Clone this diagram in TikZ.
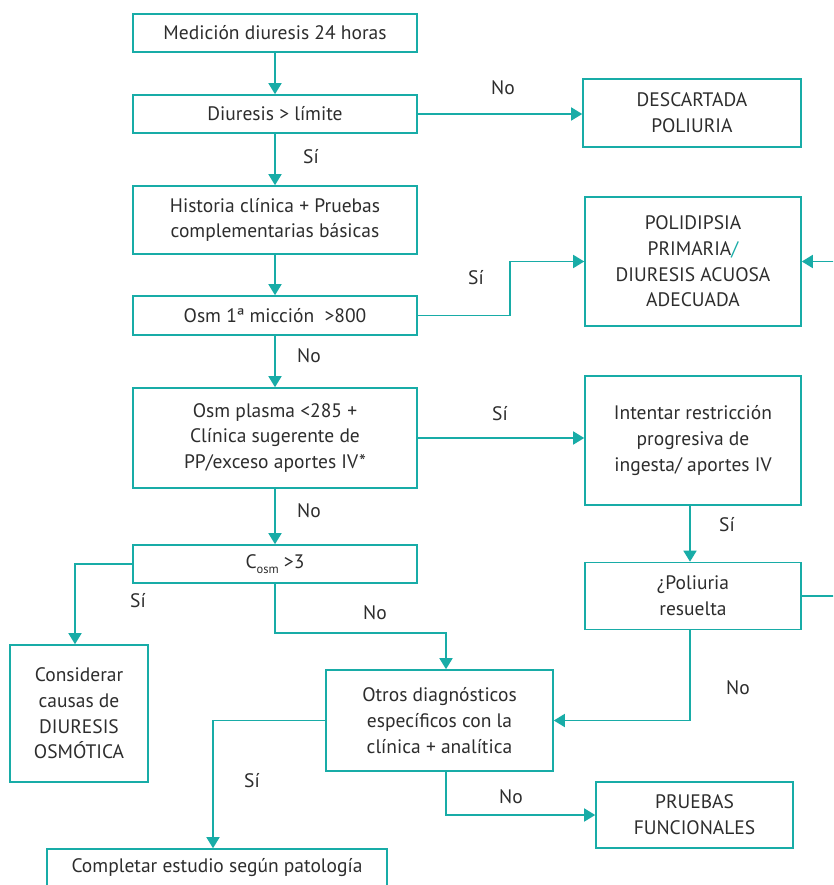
\documentclass[tikz,border=0pt]{standalone}
\usepackage{fontspec}
\setmainfont{PT Sans}
\usetikzlibrary{arrows.meta}
\definecolor{teal}{RGB}{24,172,167}
\definecolor{ink}{RGB}{45,45,45}
\tikzset{
  box/.style={draw=teal, line width=1.6pt, fill=white, align=center, text=ink,
    inner sep=2pt, font=\fontsize{19.5}{25.7}\selectfont},
  conn/.style={draw=teal, line width=1.6pt, -{Triangle[length=11pt,width=13pt]}},
  lbl/.style={text=ink, font=\fontsize{19.5}{22}\selectfont, inner sep=0pt}
}
\begin{document}
\begin{tikzpicture}[x=1pt,y=-1pt]
\useasboundingbox (0,0) rectangle (833,885);
\clip (0,0) rectangle (833,885);
\fill[white] (0,0) rectangle (833,885);

% left column
\node[box, minimum width=284pt, minimum height=38pt] (med) at (275,33) {Medición diuresis 24 horas};
\node[box, minimum width=284pt, minimum height=38pt] (diu) at (275,114) {Diuresis > límite};
\node[box, minimum width=284pt, minimum height=68pt] (his) at (275,220) {Historia clínica + Pruebas\\complementarias básicas};
\node[box, minimum width=284pt, minimum height=39pt] (osm) at (275,315.5) {Osm 1ª micción \ >800};
\node[box, minimum width=284pt, minimum height=100pt] (pla) at (275,438) {Osm plasma <285 +\\Clínica sugerente de\\PP/exceso aportes IV*};
\node[box, minimum width=284pt, minimum height=38pt] (cos) at (275,564) {C\raisebox{-0.45ex}{\fontsize{12.5}{12.5}\selectfont osm} >3};
\node[box, minimum width=138pt, minimum height=137pt] (con) at (79,713.5) {Considerar\\causas de\\DIURESIS\\OSMÓTICA};
\node[box, minimum width=227pt, minimum height=101pt] (otr) at (439.5,720.5) {Otros diagnósticos\\específicos con la\\clínica + analítica};
\node[box, minimum width=340pt, minimum height=38pt] (com) at (217,868) {Completar estudio según patología};

% right column
\node[box, minimum width=218pt, minimum height=68pt] (des) at (692,113) {DESCARTADA\\POLIURIA};
\node[box, minimum width=216pt, minimum height=129pt] (pol) at (693,261.5) {POLIDIPSIA\\PRIMARIA{\color{teal}/}\\DIURESIS ACUOSA\\ADECUADA};
\node[box, minimum width=216pt, minimum height=129pt] (int) at (693,440.5) {Intentar restricción\\progresiva de\\ingesta/ aportes IV};
\node[box, minimum width=216pt, minimum height=67pt] (res) at (693,596) {¿Poliuria\\resuelta};
\node[box, minimum width=197pt, minimum height=66pt] (pru) at (694.5,815) {PRUEBAS\\FUNCIONALES};

% connectors
\draw[conn] (med) -- (diu);
\draw[conn] (diu.east) -- (des.west |- diu.east);
\draw[conn] (diu) -- (his);
\draw[conn] (his) -- (osm);
\draw[conn] (osm.east) -- (510,315.5) |- (pol.west);
\draw[conn] (osm) -- (pla);
\draw[conn] (pla.east) -- (int.west |- pla.east);
\draw[conn] (pla) -- (cos);
\draw[conn] (int.south -| 690,0) -- (res.north -| 690,0);
\draw[conn] (res.east) -- (860,596) |- (pol.east);
\draw[conn] (cos.west) -| (con.north -| 75,0);
\draw[conn] (cos.south) -- (275,633) -| (otr.north -| 446,0);
\draw[conn] (res.south -| 690,0) |- (otr.east);
\draw[conn] (otr.west) -| (com.north -| 213,0);
\draw[conn] (otr.south -| 446,0) |- (pru.west);

% branch labels
\node[lbl] (l1) at (503,88) {No};
\node[lbl] (l2) at (311,157) {Sí};
\node[lbl] (l3) at (476,278) {Sí};
\node[lbl] (l4) at (309,356) {No};
\node[lbl] (l5) at (500,414) {Sí};
\node[lbl] (l6) at (309,511) {No};
\node[lbl] (l7) at (727,525) {Sí};
\node[lbl] (l8) at (138,601) {Sí};
\node[lbl] (l9) at (375,613) {No};
\node[lbl] (l10) at (738,688) {No};
\node[lbl] (l11) at (252,781) {Sí};
\node[lbl] (l12) at (511,797) {No};
\end{tikzpicture}
\end{document}
